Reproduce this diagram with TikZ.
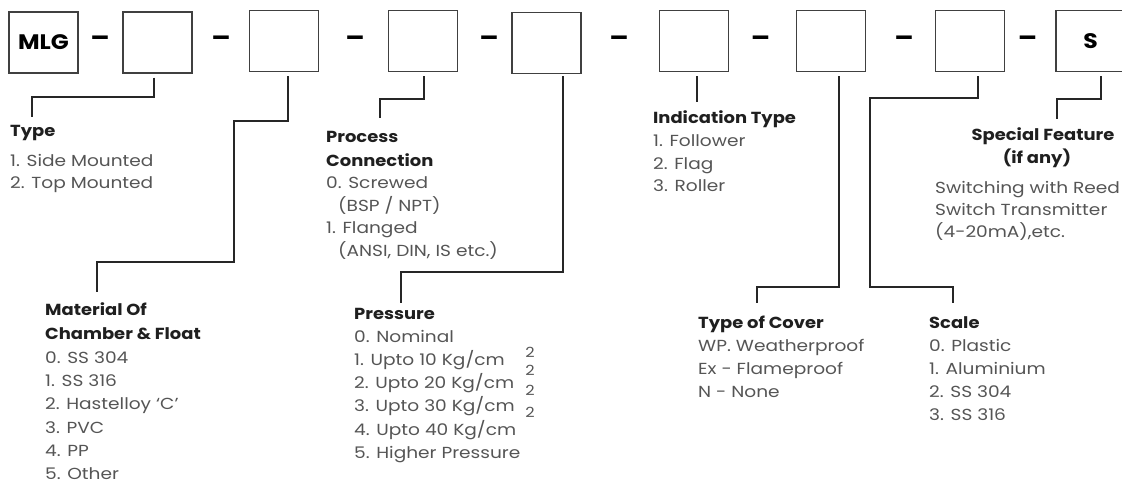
\documentclass[tikz,border=0pt]{standalone}
\usepackage{fontspec}
\setmainfont{Poppins}
\newfontfamily\itemfont{Poppins}[FakeStretch=1.16, Ligatures=TeX]
\newfontfamily\headfont{Poppins}[FakeStretch=1.12, Ligatures=TeX]
\usepackage{xcolor}
\usepackage{tikz}

\definecolor{inkgray}{HTML}{555555}
\definecolor{linegray}{HTML}{262626}

\tikzset{
  codebox/.style={draw=black!75, line width=1.2pt, minimum width=69pt,
    minimum height=61pt, inner sep=0pt, font=\headfont\bfseries\fontsize{21}{21}\selectfont},
  sepdash/.style={inner sep=0pt, font=\headfont\bfseries\fontsize{25}{25}\selectfont},
  lead/.style={draw=linegray, line width=1.5pt},
  head/.style={anchor=west, inner sep=0pt, text=black!88,
    font=\headfont\bfseries\fontsize{16}{16}\selectfont, text height=1.6ex, text depth=.4ex},
  item/.style={head, text=inkgray, font=\itemfont\fontsize{16}{16}\selectfont},
  sqr/.style={inner sep=0pt, text=inkgray, font=\itemfont\fontsize{14}{14}\selectfont},
}

\begin{document}
\begin{tikzpicture}[x=1pt, y=-1pt]
    \useasboundingbox (0,0) rectangle (1122,485);

    % Code boxes.
    \node[codebox] (bmlg)   at (43.5, 42.5) {MLG};
    \node[codebox] (btype)  at (157.5, 42.5) {};
    \node[codebox] (bmat)   at (284, 41) {};
    \node[codebox] (bproc)  at (423, 41) {};
    \node[codebox] (bpres)  at (546.5, 43) {};
    \node[codebox] (bind)   at (694, 41) {};
    \node[codebox] (bcov)   at (831, 41) {};
    \node[codebox] (bscale) at (970, 41) {};
    \node[codebox] (bspec)  at (1090.5, 41) {S};

    % Separators.
    \foreach \x [count=\i] in {100, 221, 355, 489, 619, 760.5, 904, 1027.5}
      \node[sepdash] (dash\i) at (\x, 41) {–};

    % Type.
    \node[head] (htype) at (10, 133) {Type};
    \node[item] (itype1) at (10, 163) {1. Side Mounted};
    \node[item] (itype2) at (10, 185) {2. Top Mounted};

    % Material of chamber & float.
    \node[head] (hmat1) at (45, 312) {Material Of};
    \node[head] (hmat2) at (45, 336) {Chamber \& Float};
    \foreach \t [count=\i from 0] in {0. SS 304, 1. SS 316, 2. Hastelloy ‘C’, 3. PVC, 4. PP, 5. Other}
      \node[item] (imat\i) at (45, 360 + 23.3*\i) {\t};

    % Process connection.
    \node[head] (hproc1) at (326, 139) {Process};
    \node[head] (hproc2) at (326, 163) {Connection};
    \node[item] (iproc1) at (326, 185) {0. Screwed};
    \node[item] (iproc2) at (338, 208) {(BSP / NPT)};
    \node[item] (iproc3) at (326, 230) {1. Flanged};
    \node[item] (iproc4) at (338, 253) {(ANSI, DIN, IS etc.)};

    % Pressure.
    \node[head] (hpres) at (354, 316) {Pressure};
    \foreach \t [count=\i from 0] in {0. Nominal, 1. Upto 10 Kg/cm, 2. Upto 20 Kg/cm,
        3. Upto 30 Kg/cm, 4. Upto 40 Kg/cm, 5. Higher Pressure}
      \node[item] (ipres\i) at (354, 339 + 23.2*\i) {\t};
    \foreach \y [count=\i] in {352, 370, 390, 412}
      \node[sqr] (sq\i) at (530, \y) {2};

    % Indication type.
    \node[head] (hind) at (653, 120) {Indication Type};
    \node[item] (iind1) at (653, 143) {1. Follower};
    \node[item] (iind2) at (653, 166) {2. Flag};
    \node[item] (iind3) at (653, 188) {3. Roller};

    % Type of cover.
    \node[head] (hcov) at (698, 325) {Type of Cover};
    \node[item] (icov1) at (698, 348) {WP. Weatherproof};
    \node[item] (icov2) at (698, 371) {Ex - Flameproof};
    \node[item] (icov3) at (698, 394) {N - None};

    % Scale.
    \node[head] (hscale) at (929, 325) {Scale};
    \foreach \t [count=\i from 0] in {0. Plastic, 1. Aluminium, 2. SS 304, 3. SS 316}
      \node[item] (iscale\i) at (929, 348 + 23*\i) {\t};

    % Special feature.
    \node[head, anchor=center] (hspec1) at (1043, 137) {Special Feature};
    \node[head, anchor=center] (hspec2) at (1037, 160) {(if any)};
    \node[item] (ispec1) at (935, 190) {Switching with Reed};
    \node[item] (ispec2) at (935, 212) {Switch Transmitter};
    \node[item] (ispec3) at (935, 234) {(4-20mA),etc.};

    % Leader ends.
    \coordinate (etype)  at (32, 117);
    \coordinate (emat)   at (97, 292);
    \coordinate (eproc)  at (380, 118);
    \coordinate (epres)  at (401, 303);
    \coordinate (eind)   at (697, 102);
    \coordinate (ecov)   at (757, 303);
    \coordinate (escale) at (953, 303);
    \coordinate (espec)  at (1057, 119);

    % Leaders.
    \draw[lead] ([xshift=-3.5pt, yshift=-4pt]btype.south) |- (32, 97) -- (etype);
    \draw[lead] ([xshift=4pt, yshift=-4pt]bmat.south) |- (234, 121) |- (97, 262) -- (emat);
    \draw[lead] ([xshift=1pt, yshift=-4pt]bproc.south) |- (380, 99) -- (eproc);
    \draw[lead] ([xshift=16.5pt, yshift=-2pt]bpres.south) |- (401, 272) -- (epres);
    \draw[lead] ([xshift=3pt, yshift=-4pt]bind.south) -- (eind);
    \draw[lead] ([xshift=8pt, yshift=-4pt]bcov.south) |- (757, 287) -- (ecov);
    \draw[lead] ([xshift=8pt, yshift=-4pt]bscale.south) |- (870, 98) |- (953, 287) -- (escale);
    \draw[lead] ([xshift=10.5pt, yshift=-4pt]bspec.south) |- (1057, 99) -- (espec);
\end{tikzpicture}
\end{document}
